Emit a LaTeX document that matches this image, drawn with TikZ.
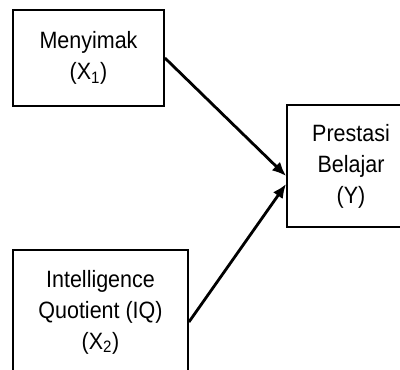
\documentclass[tikz,border=0pt]{standalone}
\usepackage{fontspec}
\setmainfont{Liberation Sans}[FakeStretch=0.91]
\usetikzlibrary{arrows.meta}
\tikzset{>={Latex[length=10pt,width=8.5pt]}}
\tikzset{
  var/.style={draw,line width=1.3pt,align=center,inner sep=2pt,
    font=\fontsize{16.8}{22}\selectfont},
  path/.style={->,line width=2pt}
}

\begin{document}
\begin{tikzpicture}
  \useasboundingbox (0,0) rectangle (10,9.225);
  \clip (0,0) rectangle (10,9.225);
  % variables
  \node[var,minimum width=3.775cm,minimum height=2.4cm] (x1) at (2.2125,7.775)
    {Menyimak\\(X\textsubscript{1})};
  \node[var,minimum width=4.375cm,minimum height=3.1cm] (x2) at (2.5125,1.425)
    {Intelligence\\Quotient (IQ)\\(X\textsubscript{2})};
  \node[var,minimum width=3.2cm,minimum height=3.05cm] (y) at (8.775,5.075)
    {Prestasi\\Belajar\\(Y)};
  % paths
  \draw[path] (x1.east) -- ([yshift=-0.25cm]y.west);
  \draw[path] ([yshift=-0.25cm]x2.east) -- ([yshift=-0.45cm]y.west);
\end{tikzpicture}
\end{document}
